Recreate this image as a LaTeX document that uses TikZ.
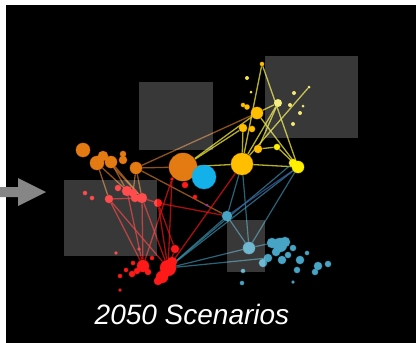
\documentclass[tikz,border=0pt]{standalone}
\usepackage{fontspec}
\setmainfont{Liberation Sans}
\pgfdeclarelayer{bg}\pgfdeclarelayer{edges}\pgfdeclarelayer{fg}
\pgfsetlayers{bg,edges,main,fg}
\definecolor{cO}{HTML}{E47A12}
\definecolor{cG}{HTML}{FFBE00}
\definecolor{cY}{HTML}{FFF000}
\definecolor{cL}{HTML}{F2E860}
\definecolor{cR}{HTML}{FF1A1A}
\definecolor{cT}{HTML}{48A4C4}
\definecolor{cB}{HTML}{14B0EA}
\definecolor{lO}{HTML}{C8742A}
\definecolor{lY}{HTML}{E4DC30}
\definecolor{lR}{HTML}{E01515}
\definecolor{lT}{HTML}{3A8EAA}
\definecolor{lD}{HTML}{3A5FA8}
\tikzset{
  dot/.style={circle, inner sep=0pt, draw=none},
  odot/.style={dot, fill=cO, draw=cO, draw opacity=0.45, line width=0.9pt},
  gdot/.style={dot, fill=cG, draw=cG, draw opacity=0.45, line width=0.9pt},
  ydot/.style={dot, fill=cY, draw=cY, draw opacity=0.45, line width=0.9pt},
  rdot/.style={dot, fill=cR, draw=cR, draw opacity=0.45, line width=0.9pt},
  tdot/.style={dot, fill=cT, draw=cT, draw opacity=0.45, line width=0.9pt},
  oline/.style={draw=lO, line width=1.3pt, opacity=0.7},
  yline/.style={draw=lY, line width=1.3pt, opacity=0.8},
  rline/.style={draw=lR, line width=1.3pt, opacity=0.75},
  tline/.style={draw=lT, line width=1.2pt, opacity=0.7},
  dline/.style={draw=lD, line width=1.2pt, opacity=0.75},
  shade box/.style={fill=white, fill opacity=0.22, draw=none},
  title/.style={text=white, font=\fontsize{28}{32}\selectfont\itshape, inner sep=0pt}
}
\begin{document}
\begin{tikzpicture}[x=1pt,y=-1pt]
\useasboundingbox (0,0) rectangle (416,343);
\begin{pgfonlayer}{bg}
\fill[white] (0,0) rectangle (416,343);
\fill[black] (6,5) rectangle (416,343);
\end{pgfonlayer}
% orange cluster
\node[odot, minimum size=14] (o1) at (83,150) {};
\node[odot, minimum size=14] (o2) at (97,163) {};
\node[odot, minimum size=10] (o3) at (103,156) {};
\node[odot, minimum size=12] (o4) at (111,162) {};
\node[odot, minimum size=8] (o5) at (123,160) {};
\node[odot, minimum size=6] (o6) at (123,154) {};
\node[odot, minimum size=12] (o7) at (136,168) {};
\node[odot, minimum size=28] (O) at (183,167) {};
\node[dot, fill=cB, draw=cB, draw opacity=0.45, line width=0.9pt, minimum size=24] (B) at (204,177) {};
% yellow / gold cluster
\node[gdot, minimum size=22] (G) at (242,164) {};
\node[ydot, minimum size=12] (Y) at (298,167) {};
\node[ydot, minimum size=8] (y2) at (293,163) {};
\node[gdot, minimum size=12] (g2) at (257,113) {};
\node[gdot, minimum size=8] (g3) at (243,128) {};
\node[gdot, minimum size=6] (g4) at (252,129) {};
\node[gdot, minimum size=5] (g5) at (247,107) {};
\node[gdot, minimum size=4] (g6) at (243,105) {};
\node[dot, fill=cL, minimum size=8] (L) at (278,103) {};
\node[gdot, minimum size=8] (g7) at (258,149) {};
\node[ydot, minimum size=6] (y3) at (277,147) {};
\node[gdot, minimum size=4] (T) at (262,64) {};
\node[dot, fill=cL, minimum size=3] (E) at (309,87) {};
\foreach \x/\y/\r [count=\i] in {247/78/2, 251/92/1.5, 294/93/2, 290/105/2, 300/113/2, 293/124/2, 303/106/1.5}
  \node[dot, fill=cL!80!cG, minimum size=2*\r] (ys\i) at (\x,\y) {};
% red cluster
\node[rdot, minimum size=8] (r1) at (109,199) {};
\node[rdot, minimum size=10] (r2) at (127,191) {};
\node[rdot, minimum size=6] (r2b) at (118,188) {};
\node[rdot, minimum size=8] (r2c) at (133,193) {};
\node[rdot, minimum size=10] (r3) at (142,198) {};
\node[rdot, minimum size=8] (r3b) at (135,198) {};
\node[rdot, minimum size=8] (r4) at (158,203) {};
\node[rdot, minimum size=6] (r5) at (185,185) {};
\node[rdot, minimum size=3] (rO) at (172,179) {};
\node[rdot, minimum size=8] (r6) at (175,249) {};
\node[rdot, minimum size=12] (r7) at (143,266) {};
\node[rdot, minimum size=16] (R) at (168,268) {};
\node[rdot, minimum size=12] (r8) at (162,277) {};
\node[rdot, minimum size=10] (r9) at (172,262) {};
\foreach \x/\y/\r [count=\i] in {85/193/2, 92/198/2, 195/197/2, 116/253/1.6, 133/263/2, 120/276/2, 132/274/3, 152/258/2, 139/249/1.5, 137/271/3, 158/281/4, 120/290/1.5, 126/270/2, 148/272/3}
  \node[rdot, minimum size=2*\r] (rs\i) at (\x,\y) {};
\node[dot, fill=violet!80, minimum size=3] (pv) at (207,205) {};
% teal cluster
\node[tdot, minimum size=10] (t1) at (227,216) {};
\node[tdot, minimum size=12] (t2) at (249,248) {};
\foreach \x/\y/\r [count=\i] in {280/245/7, 272/243/5, 285/242/5, 268/258/4, 263/263/4, 282/260/4, 293/248/3, 300/260/4, 307/253/2, 297/270/3, 318/266/4, 315/272/3, 328/264/3, 243/271/2, 242/283/2, 293/282/1.5, 276/252/4, 288/255/3}
  \node[tdot, minimum size=2*\r] (ts\i) at (\x,\y) {};
% connectors
\begin{pgfonlayer}{edges}
\draw[oline] (o7) -- (g2);
\draw[oline] (o7) -- (O);
\draw[oline] (o7) -- (t1);
\draw[oline] (o2) -- (r1);
\draw[oline] (o2) -- (r3b);
\draw[oline] (o4) -- (r2);
\draw[oline] (o4) -- (r3);
\draw[oline] (o7) -- (r3);
\draw[oline] (o3) -- (r3);
\draw[oline] (o7) -- (r2c);
\draw[yline] (O) -- (g2);
\draw[yline] (O) -- (g3);
\draw[yline] (O) -- (G);
\draw[yline] (G) -- (Y);
\draw[yline] (T) -- (G);
\draw[yline] (T) -- (Y);
\draw[yline] (E) -- (G);
\draw[yline] (L) -- (g7);
\draw[yline] (L) -- (g2);
\draw[yline] (L) -- (G);
\draw[yline] (g2) -- (Y);
\draw[yline] (g7) -- (y3);
\draw[yline] (y3) -- (Y);
\draw[yline] (g3) -- (G);
\draw[rline] (r1) -- (r7);
\draw[rline] (r1) -- (R);
\draw[rline] (r2) -- (r7);
\draw[rline] (r3) -- (r7);
\draw[rline] (r3) -- (R);
\draw[rline] (r4) -- (R);
\draw[rline] (r4) -- (r6);
\draw[rline] (rO) -- (R);
\draw[rline] (rO) -- (r7);
\draw[rline] (r4) -- (t1);
\draw[rline] (R) -- (G);
\draw[rline] (r1) -- (r3);
\draw[rline] (r6) -- (R);
\draw[rline] (r3) -- (r4);
\draw[tline] (R) -- (Y);
\draw[tline] (R) -- (y2);
\draw[tline] (R) -- (t1);
\draw[tline] (R) -- (t2);
\draw[tline] (R) -- (ts4);
\draw[tline] (G) -- (t1);
\draw[tline] (G) -- (t2);
\draw[tline] (Y) -- (t2);
\draw[dline] (Y) -- (t1);
\draw[tline] (t1) -- (t2);
\draw[tline] (t2) -- (ts2);
\end{pgfonlayer}
% overlays
\begin{pgfonlayer}{fg}
\fill[shade box] (139,82) rectangle (213,150);
\fill[shade box] (265,56) rectangle (358,138);
\fill[shade box] (64,180) rectangle (157,256);
\fill[shade box] (227,220) rectangle (265,272);
\fill[gray!95!white] (0,187) -- (18,187) -- (18,178) -- (46,192) -- (18,206) -- (18,197) -- (0,197) -- cycle;
\node[title] (title) at (192,314) {2050 Scenarios};
\end{pgfonlayer}
\end{tikzpicture}
\end{document}
